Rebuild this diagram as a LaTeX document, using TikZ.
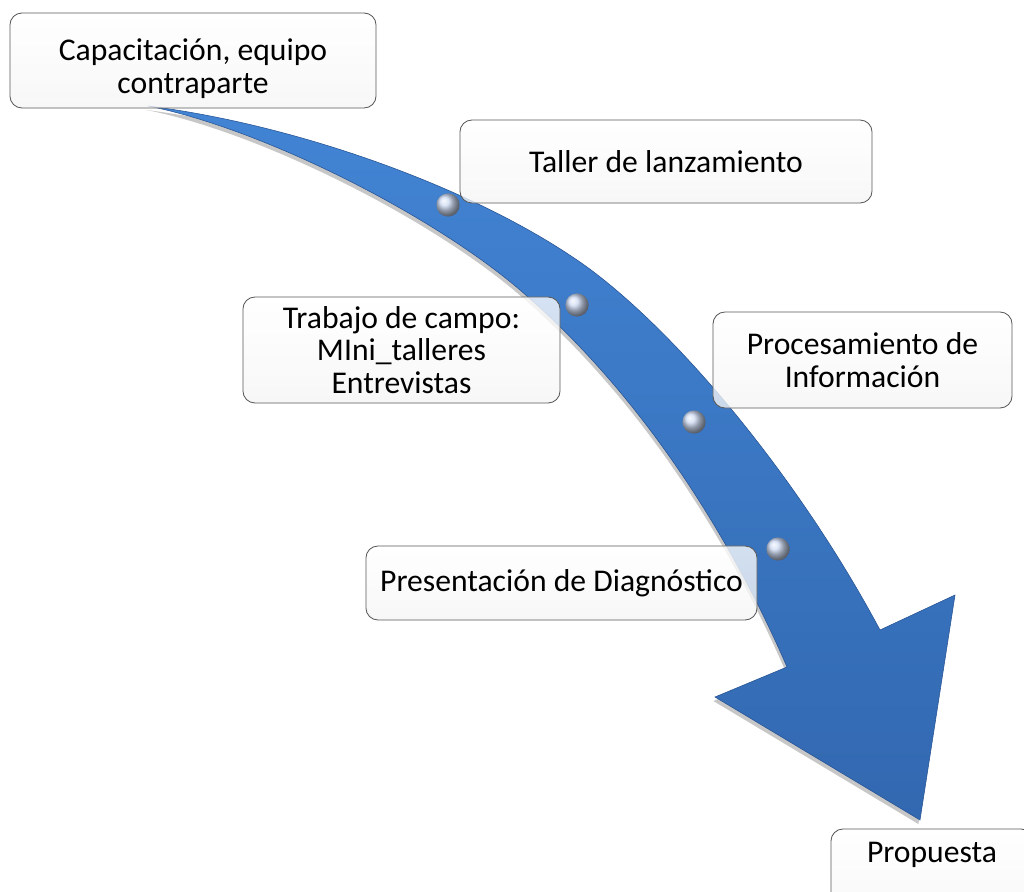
\documentclass[tikz,border=0pt]{standalone}
\usepackage{fontspec}
\setmainfont{Carlito}
\definecolor{flecha}{RGB}{66,132,212}
\definecolor{flechaosc}{RGB}{50,104,176}
\definecolor{flechaborde}{RGB}{40,84,148}
\definecolor{bolita}{RGB}{205,218,242}
\definecolor{borde}{RGB}{88,88,88}

\begin{document}
\begin{tikzpicture}[x=0.025cm, y=-0.025cm,
  etapa/.style={draw=borde, line width=0.6pt, rounded corners=0.3cm,
    top color=white, bottom color=black!4, fill opacity=0.78, text opacity=1,
    align=center, inner sep=2pt, font=\fontsize{22.5}{23.05}\selectfont}]
\useasboundingbox (0,0) rectangle (1024,892);
\clip (0,0) rectangle (1024,892);

% Curved arrow
\draw[preaction={fill=black, fill opacity=0.22, transform canvas={xshift=-0.04cm, yshift=-0.1cm}},
  top color=flecha, bottom color=flechaosc, draw=flechaborde, line width=0.4pt]
  (148,106) .. controls (300,125) and (480,190) .. (587,267)
  .. controls (680,335) and (800,480) .. (880,630)
  -- (955,595) -- (920,820) -- (715,697) -- (787,667)
  .. controls (745,570) and (660,410) .. (520,290)
  .. controls (430,213) and (260,128) .. (148,106)
  -- cycle;

% Beads on the arrow
\foreach \x/\y in {448/205, 577/305, 694/422, 778/549}
  \shade[ball color=bolita] (\x,\y) circle (0.29cm);

% Stages
\node[etapa, minimum width=9.15cm, minimum height=2.375cm] (capacitacion) at (193,60.5) {\rule{0pt}{0.95cm}Capacitación, equipo\\contraparte};
\node[etapa, minimum width=10.3cm, minimum height=2.075cm] (taller) at (666,161.5) {Taller de lanzamiento};
\node[etapa, minimum width=7.925cm, minimum height=2.65cm] (campo) at (401.5,350) {Trabajo de campo:\\MIni\_talleres\\Entrevistas};
\node[etapa, minimum width=7.475cm, minimum height=2.4cm] (procesamiento) at (862.5,360) {Procesamiento de\\Información};
\node[etapa, minimum width=9.775cm, minimum height=1.85cm] (diagnostico) at (561.5,583) {Presentación de Diagnóstico};
\node[etapa, minimum width=5.05cm, minimum height=2.3cm, text height=0.5cm, text depth=1.15cm] (propuesta) at (932,875) {Propuesta};
\end{tikzpicture}
\end{document}
